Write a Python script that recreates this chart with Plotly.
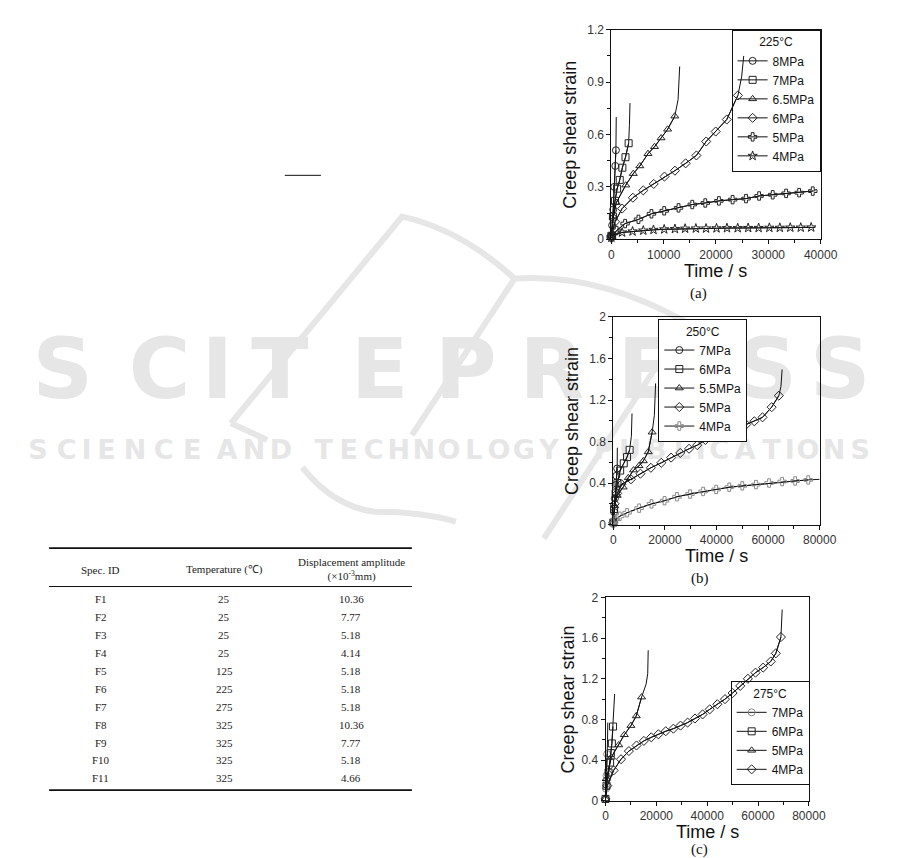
import plotly.graph_objects as go

W, H = 901, 858

# ------------------------------------------------------------------ data
# (a) 225 °C  — time [s] / creep shear strain
a_title = "225°C"
a8_t = [0, 150, 350, 550, 750, 870]
a8_e = [0.02, 0.08, 0.17, 0.30, 0.42, 0.51]
a8_tail_t = [930]
a8_tail_e = [0.70]
a7_t = [0, 300, 700, 1100, 1600, 2100, 2700, 3300]
a7_e = [0.02, 0.13, 0.22, 0.29, 0.34, 0.41, 0.47, 0.55]
a7_tail_t = [3450, 3560]
a7_tail_e = [0.65, 0.78]
a65_t = [0, 400, 940, 2750, 4190, 5440, 7000, 8250, 9500, 10750, 12125]
a65_e = [0.02, 0.13, 0.21, 0.31, 0.376, 0.42, 0.49, 0.53, 0.58, 0.63, 0.705]
a65_tail_t = [12750, 13060]
a65_tail_e = [0.80, 0.99]
a6_t = [0, 700, 2060, 4110, 6100, 8100, 10150, 12150, 14200, 16260, 18125, 19940, 22060, 24190]
a6_e = [0.02, 0.10, 0.176, 0.238, 0.28, 0.317, 0.359, 0.393, 0.435, 0.48, 0.56, 0.617, 0.686, 0.824]
a6_tail_t = [24900, 25300]
a6_tail_e = [0.93, 1.05]
a5_t = [0, 1000, 2620, 5180, 7660, 10100, 12840, 15460, 17950, 20560, 23180, 25740, 28240, 30840, 33400, 35890, 38500]
a5_e = [0.01, 0.05, 0.09, 0.114, 0.146, 0.163, 0.18, 0.199, 0.208, 0.22, 0.227, 0.233, 0.248, 0.255, 0.263, 0.267, 0.276]
a5_tail_t = [39000]
a5_tail_e = [0.278]
a4_t = [0, 300, 2050, 4050, 6100, 8050, 10100, 12150, 14100, 16150, 18100, 20100, 22100, 24150, 26150, 28150, 30200, 32200, 34200, 36200, 38200]
a4_e = [0.01, 0.025, 0.039, 0.045, 0.05, 0.054, 0.057, 0.059, 0.061, 0.062, 0.062, 0.063, 0.064, 0.064, 0.065, 0.065, 0.066, 0.066, 0.067, 0.067, 0.068]
a4_tail_t = [39000]
a4_tail_e = [0.068]

# (b) 250 °C
b_title = "250°C"
b7_t = [0, 300, 600, 900, 1200, 1500]
b7_e = [0.02, 0.12, 0.25, 0.38, 0.47, 0.54]
b7_tail_t = [1550]
b7_tail_e = [0.74]
b6_t = [0, 300, 900, 1600, 2650, 4050, 5310, 6320]
b6_e = [0.02, 0.15, 0.30, 0.40, 0.52, 0.59, 0.65, 0.72]
b6_tail_t = [7000, 7250]
b6_tail_e = [0.85, 1.07]
b55_t = [0, 500, 1500, 3800, 5800, 7840, 9970, 11630, 13530, 15050]
b55_e = [0.02, 0.18, 0.28, 0.36, 0.45, 0.525, 0.566, 0.613, 0.70, 0.89]
b55_tail_t = [15900, 16400]
b55_tail_e = [1.05, 1.36]
b5_t = [0, 500, 1500, 3160, 6835, 10500, 14560, 18600, 22400, 25950, 29370, 32530, 35700, 38860, 42030, 45190, 48350, 51520, 54680, 57850, 61390, 64180]
b5_e = [0.02, 0.20, 0.30, 0.389, 0.436, 0.49, 0.547, 0.595, 0.645, 0.69, 0.73, 0.765, 0.815, 0.853, 0.885, 0.913, 0.948, 0.964, 0.995, 1.033, 1.131, 1.242]
b5_tail_t = [65000, 65440]
b5_tail_e = [1.33, 1.494]
b4_t = [0, 800, 2500, 5320, 10000, 14810, 19870, 24680, 29750, 34800, 39870, 44940, 50000, 55300, 60380, 65440, 70500, 75570]
b4_e = [0.01, 0.05, 0.08, 0.114, 0.158, 0.199, 0.23, 0.268, 0.294, 0.319, 0.338, 0.36, 0.373, 0.385, 0.40, 0.414, 0.42, 0.43]
b4_tail_t = [80000]
b4_tail_e = [0.436]

# (c) 275 °C
c_title = "275°C"
c7_t = [0, 200, 400, 650]
c7_e = [0.02, 0.12, 0.25, 0.46]
c7_tail_t = [800, 900]
c7_tail_e = [0.60, 0.77]
c6_t = [0, 400, 1200, 1800, 2100, 2500, 2960]
c6_e = [0.02, 0.15, 0.28, 0.377, 0.47, 0.565, 0.731]
c6_tail_t = [3300, 3590]
c6_tail_e = [0.85, 1.05]
c5_t = [0, 400, 2300, 5200, 7400, 10000, 12100, 14200]
c5_e = [0.02, 0.22, 0.43, 0.55, 0.65, 0.74, 0.835, 1.02]
c5_tail_t = [16000, 16600, 16800]
c5_tail_e = [1.15, 1.25, 1.48]
c4_t = [0, 700, 3200, 6100, 9200, 12200, 15100, 18000, 20800, 23700, 26700, 29500, 32300, 35200, 38200, 41000, 44000, 47000, 50000, 53000, 56000, 59000, 62000, 65000, 67000, 69000]
c4_e = [0.02, 0.15, 0.30, 0.41, 0.49, 0.545, 0.59, 0.625, 0.655, 0.685, 0.71, 0.74, 0.77, 0.81, 0.85, 0.90, 0.95, 1.00, 1.06, 1.13, 1.20, 1.26, 1.31, 1.37, 1.45, 1.61]
c4_tail_t = [69500]
c4_tail_e = [1.88]

# table
tbl_headers = ["Spec. ID", "Temperature (℃)", "Displacement amplitude<br>(×10<sup>-3</sup>mm)"]
tbl_spec = ["F1", "F2", "F3", "F4", "F5", "F6", "F7", "F8", "F9", "F10", "F11"]
tbl_temp = ["25", "25", "25", "25", "125", "225", "275", "325", "325", "325", "325"]
tbl_amp = ["10.36", "7.77", "5.18", "4.14", "5.18", "5.18", "5.18", "10.36", "7.77", "5.18", "4.66"]

wm_big = "SCITEPRESS"
wm_small_words = ["SCIENCE", "AND", "TECHNOLOGY", "PUBLICATIONS"]

# ------------------------------------------------------------------ helpers
def px(x):
    return x / W


def py(y):
    return 1 - y / H


SANS = "Liberation Sans, Arial, sans-serif"
SERIF = "Liberation Serif, Times New Roman, serif"
INK = "#111111"

fig = go.Figure()

# watermark (drawn first, beneath the charts) on a full-page pixel axis
big_x = [53, 152, 211, 275, 377, 465, 553, 650, 773, 848]
fig.add_trace(go.Scatter(
    x=big_x, y=[368] * len(wm_big), text=list(wm_big), mode="text",
    textposition="middle center",
    textfont=dict(family="DejaVu Sans", size=84, color="#e6e6e6", weight="bold"),
    hoverinfo="skip", showlegend=False, xaxis="x", yaxis="y"))

spans = [(13, 200), (207, 290), (307, 563), (593, 882)]
sx, st = [], []
for word, (x0, x1) in zip(wm_small_words, spans):
    ws = [0.4 if ch == "I" else 1.0 for ch in word]
    tot = sum(ws)
    acc = x0
    for ch, wi in zip(word, ws):
        step = wi * (x1 - x0) / tot
        sx.append(acc + step / 2)
        st.append(ch)
        acc += step
fig.add_trace(go.Scatter(
    x=sx, y=[445] * len(sx), text=st, mode="text", textposition="middle center",
    textfont=dict(family="DejaVu Sans", size=27, color="#e6e6e6", weight="bold"),
    hoverinfo="skip", showlegend=False, xaxis="x", yaxis="y"))

wm_paths = [
    "M 225,415 L 400,205 Q 460,218 515,268",
    "M 515,268 Q 600,262 690,312 L 545,532",
    "M 515,268 L 410,427",
    "M 225,415 L 262,432",
    "M 298,460 Q 330,500 372,505 Q 420,505 455,515",
]
for p in wm_paths:
    fig.add_shape(type="path", path=p, xref="x", yref="y", layer="below",
                  line=dict(color="#e6e6e6", width=6))

# ------------------------------------------------------------------ charts
panels = [
    dict(ax="2", legend="legend", title=a_title, series=[
        ("8MPa", "circle-open", a8_t, a8_e, a8_tail_t, a8_tail_e),
        ("7MPa", "square-open", a7_t, a7_e, a7_tail_t, a7_tail_e),
        ("6.5MPa", "triangle-up-open", a65_t, a65_e, a65_tail_t, a65_tail_e),
        ("6MPa", "diamond-open", a6_t, a6_e, a6_tail_t, a6_tail_e),
        ("5MPa", "cross-open", a5_t, a5_e, a5_tail_t, a5_tail_e),
        ("4MPa", "star-open", a4_t, a4_e, a4_tail_t, a4_tail_e),
    ]),
    dict(ax="3", legend="legend2", title=b_title, series=[
        ("7MPa", "circle-open", b7_t, b7_e, b7_tail_t, b7_tail_e),
        ("6MPa", "square-open", b6_t, b6_e, b6_tail_t, b6_tail_e),
        ("5.5MPa", "triangle-up-open", b55_t, b55_e, b55_tail_t, b55_tail_e),
        ("5MPa", "diamond-open", b5_t, b5_e, b5_tail_t, b5_tail_e),
        ("4MPa", "cross-open", b4_t, b4_e, b4_tail_t, b4_tail_e),
    ]),
    dict(ax="4", legend="legend3", title=c_title, series=[
        ("7MPa", "circle-open", c7_t, c7_e, c7_tail_t, c7_tail_e),
        ("6MPa", "square-open", c6_t, c6_e, c6_tail_t, c6_tail_e),
        ("5MPa", "triangle-up-open", c5_t, c5_e, c5_tail_t, c5_tail_e),
        ("4MPa", "diamond-open", c4_t, c4_e, c4_tail_t, c4_tail_e),
    ]),
]

gray_names = {("3", "4MPa"), ("4", "7MPa")}
for pan in panels:
    ax = pan["ax"]
    for name, sym, t, e, tt, te in pan["series"]:
        col = "#8a8a8a" if (ax, name) in gray_names else "#222222"
        fig.add_trace(go.Scatter(
            x=list(t) + list(tt), y=list(e) + list(te), mode="lines",
            line=dict(color="#111111", width=1), showlegend=False,
            hoverinfo="skip", cliponaxis=False,
            xaxis="x" + ax, yaxis="y" + ax))
        fig.add_trace(go.Scatter(
            x=t, y=e, mode="lines+markers", name=name,
            line=dict(color="#111111", width=1),
            marker=dict(symbol=sym, size=7, color=col, line=dict(width=1)),
            cliponaxis=False, legend=pan["legend"],
            xaxis="x" + ax, yaxis="y" + ax))


def axis(rng, dtick, mdtick, dom, anchor, fmt=None):
    d = dict(domain=dom, range=rng, anchor=anchor, showline=True, linecolor=INK,
             linewidth=1, mirror=True, ticks="outside", ticklen=4, tickwidth=1,
             tickcolor=INK, tick0=0, dtick=dtick, showgrid=False, zeroline=False,
             minor=dict(dtick=mdtick, ticks="outside", ticklen=3, tickwidth=1,
                        tickcolor=INK, showgrid=False),
             tickfont=dict(family=SANS, size=12, color="#333333"), fixedrange=True)
    if fmt:
        d["tickformat"] = fmt
    return d


boxes = {  # left, right, top, bottom (page pixels)
    "2": (614, 828, 15, 228),
    "3": (616, 827, 307, 518),
    "4": (608, 816, 592, 799),
}
ranges = {
    "2": ([0, 40000], 10000, 5000, [0, 1.2], 0.3, 0.15),
    "3": ([0, 80000], 20000, 10000, [0, 2], 0.4, 0.2),
    "4": ([0, 80000], 20000, 10000, [0, 2], 0.4, 0.2),
}

layout_axes = dict(
    xaxis=dict(domain=[0, 1], range=[0, W], visible=False, fixedrange=True),
    yaxis=dict(domain=[0, 1], range=[H, 0], visible=False, fixedrange=True),
)
for ax, (l, r, t, b) in boxes.items():
    xr, xd, xm, yr, yd, ym = ranges[ax]
    layout_axes["xaxis" + ax] = axis(xr, xd, xm, [px(l), px(r)], "y" + ax, "d")
    layout_axes["yaxis" + ax] = axis(yr, yd, ym, [py(b), py(t)], "x" + ax)

fig.update_layout(**layout_axes)


def legend_cfg(title, x, y, xanchor, yanchor, bg):
    return dict(title=dict(text=title, side="top center",
                           font=dict(family=SANS, size=12, color=INK)),
                x=x, y=y, xanchor=xanchor, yanchor=yanchor, xref="paper", yref="paper",
                bgcolor=bg, bordercolor=INK, borderwidth=1,
                font=dict(family=SANS, size=12, color=INK),
                tracegroupgap=0, itemwidth=30)


fig.update_layout(
    width=W, height=H, autosize=False,
    margin=dict(l=0, r=0, t=0, b=0, pad=0),
    paper_bgcolor="white", plot_bgcolor="rgba(0,0,0,0)",
    legend=legend_cfg(a_title, px(828), py(15), "right", "top", "rgba(0,0,0,0)"),
    legend2=legend_cfg(b_title, px(662), py(309), "left", "top", "white"),
    legend3=legend_cfg(c_title, px(736), py(783), "left", "bottom", "rgba(0,0,0,0)"),
)

# ------------------------------------------------------------------ texts
ann = []


def text(x, y, s, size, family=SANS, angle=0, color=INK):
    ann.append(dict(x=px(x), y=py(y), xref="paper", yref="paper", text=s,
                    showarrow=False, xanchor="center", yanchor="middle",
                    textangle=angle, font=dict(family=family, size=size, color=color)))


for ax, (l, r, t, b) in boxes.items():
    text((l + r) / 2, b + 32, "Time / s", 18)
    text(l - 43 if ax != "4" else l - 38, (t + b) / 2, "Creep shear strain", 18, angle=-90)

text(703, 283, "(a)", 15, SERIF)
text(705, 573, "(b)", 15, SERIF)
text(704, 848, "(c)", 15, SERIF)

# table
col_x = [92, 218, 348]
for cx, h in zip(col_x, tbl_headers):
    text(cx, 564, h, 11, SERIF, color="#222222")
for i, (s, tmp, amp) in enumerate(zip(tbl_spec, tbl_temp, tbl_amp)):
    yy = 594 + i * 18.2
    text(col_x[0], yy, s, 11, SERIF, color="#222222")
    text(col_x[1], yy, tmp, 11, SERIF, color="#222222")
    text(col_x[2], yy, amp, 11, SERIF, color="#222222")

fig.update_layout(annotations=ann)

for yy, wdt in [(542, 1.6), (581, 1.0), (788, 1.6)]:
    fig.add_shape(type="line", xref="paper", yref="paper", x0=px(39), x1=px(410),
                  y0=py(yy), y1=py(yy), line=dict(color=INK, width=wdt))
fig.add_shape(type="line", xref="paper", yref="paper", x0=px(280), x1=px(317),
              y0=py(163), y1=py(163), line=dict(color=INK, width=1))

fig.write_html("out.html")
